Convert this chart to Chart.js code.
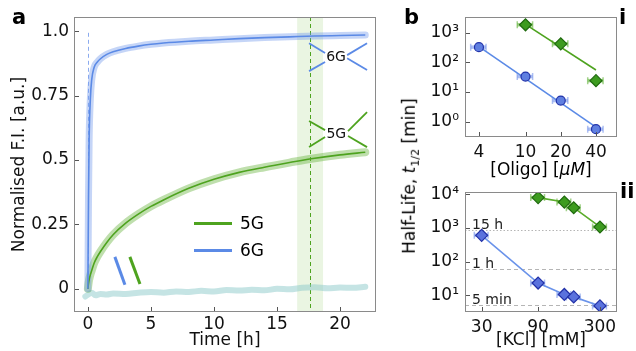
<!DOCTYPE html>
<html>
<head>
<meta charset="utf-8">
<script src="https://cdn.jsdelivr.net/npm/chart.js@4.4.0/dist/chart.umd.min.js"></script>
<style>
body{margin:0;background:#fff;font-family:"DejaVu Sans",sans-serif;}
#wrap{position:relative;width:636px;height:351px;overflow:hidden;background:#fff;}
canvas{position:absolute;}
.lbl{position:absolute;color:#000;white-space:nowrap;line-height:1;}
.leg{position:absolute;height:3px;width:38px;}
</style>
</head>
<body>
<div id="wrap">
  <canvas id="chartA" width="400" height="351" style="left:0px;top:0px"></canvas>
  <canvas id="chartB1" width="236" height="176" style="left:400px;top:0px"></canvas>
  <canvas id="chartB2" width="236" height="175" style="left:400px;top:176px"></canvas>

  <div class="lbl" style="left:12px;top:7px;font-size:21px;font-weight:bold">a</div>
  <div class="lbl" style="left:404px;top:7px;font-size:21px;font-weight:bold">b</div>
  <div class="lbl" style="left:619px;top:7px;font-size:21px;font-weight:bold">i</div>
  <div class="lbl" style="left:620px;top:181px;font-size:21px;font-weight:bold">ii</div>

  <!-- legenda panelu a -->
  <div class="leg" style="left:194px;top:222px;background:#4ea31f"></div>
  <div class="lbl" style="left:240px;top:215px;font-size:17px">5G</div>
  <div class="leg" style="left:194px;top:249px;background:#5b8ae6"></div>
  <div class="lbl" style="left:240px;top:242px;font-size:17px">6G</div>

  <!-- wspólny opis osi y dla b -->
  <div class="lbl" style="left:411px;top:176px;font-size:17px;transform:translate(-50%,-50%) rotate(-90deg)">Half-Life, <i>t</i><sub style="font-size:11px">1/2</sub> [min]</div>
  <div class="lbl" style="left:541px;top:169px;font-size:17px;transform:translate(-50%,-50%)">[Oligo] [<i>μM</i>]</div>
</div>

<script>
// ===== dane panel a =====
const czasH = [0, 0.05, 0.1, 0.2, 0.3, 0.5, 0.75, 1, 1.5, 2, 3, 4, 5, 6, 8, 10, 12, 14, 16, 18, 20, 22];
const fi6G = [0, 0.35, 0.58, 0.74, 0.81, 0.86, 0.88, 0.893, 0.91, 0.92, 0.933, 0.942, 0.949, 0.954, 0.961, 0.966, 0.971, 0.975, 0.978, 0.981, 0.983, 0.985];
const fi5G = [0, 0.02, 0.035, 0.055, 0.07, 0.10, 0.125, 0.145, 0.18, 0.21, 0.255, 0.29, 0.32, 0.345, 0.39, 0.425, 0.452, 0.472, 0.49, 0.507, 0.52, 0.53];
const czasKontrola = [-0.2, 0.3, 0.6, 1, 1.5, 2, 3, 4, 5, 6, 7, 8, 9, 10, 11, 12, 13, 14, 15, 16, 17, 18, 19, 20, 21, 22];
const fiKontrola = [-0.03, -0.015, -0.025, -0.02, -0.022, -0.018, -0.02, -0.015, -0.012, -0.015, -0.01, -0.012, -0.008, -0.01, -0.005, -0.007, -0.004, -0.006, 0.0, -0.002, 0.004, 0.006, 0.002, 0.005, 0.004, 0.008];
const ticksAx = [0, 5, 10, 15, 20];
const ticksAy = [0, 0.25, 0.5, 0.75, 1.0];
const ticksAyOpis = ['0', '0.25', '0.5', '0.75', '1.0'];

// ===== dane panel b.i =====
const oligo = [4, 10, 20, 40];
const t12_6G = [325, 33, 5.1, 0.55];
const oligoErr6G = [0.6, 1.5, 3, 6];
const oligo5G = [10, 20, 40];
const t12_5G = [1850, 420, 24];
const oligoErr5G = [1.5, 3, 6];
const fitOligo6Gx = [4, 40];
const fitOligo6G = [340, 0.65];
const fitOligo5Gx = [10, 40];
const fitOligo5G = [1900, 55];
const ticksB1x = [4, 10, 20, 40];
const ticksB1y = [1, 10, 100, 1000];
const ticksB1yOpis = ['10⁰', '10¹', '10²', '10³'];

// ===== dane panel b.ii =====
const kcl = [30, 90, 150, 180, 300];
const t12kcl6G = [605, 23, 10.5, 8.9, 4.8];
const kclErr6G = [4, 12, 20, 24, 40];
const kcl5G = [90, 150, 180, 300];
const t12kcl5G = [8000, 5900, 4000, 1070];
const kclErr5G = [12, 20, 24, 40];
const linieRef = [900, 60, 5];
const linieRefOpis = ['15 h', '1 h', '5 min'];
const ticksB2x = [30, 90, 300];
const ticksB2y = [10, 100, 1000, 10000];
const ticksB2yOpis = ['10¹', '10²', '10³', '10⁴'];

// kolory
const niebieski = '#5b8ae6';
const zielony = '#4ea31f';

// adnotacje w panelu a (w jednostkach osi)
const pasekStart = 16.6, pasekKoniec = 18.65, liniaPrzerwy = 17.6;
const pionowa6G = 0.05;
const kreski6G = [[17.54, 0.953, 18.81, 0.915], [17.54, 0.845, 18.81, 0.880], [20.56, 0.907, 22.14, 0.953], [20.56, 0.895, 22.14, 0.849]];
const kreski5G = [[17.54, 0.651, 18.81, 0.616], [17.54, 0.550, 18.81, 0.589], [20.63, 0.612, 22.14, 0.686], [20.63, 0.593, 22.14, 0.550]];
const ukosnik6G = [2.14, 0.124, 2.94, 0.016];
const ukosnik5G = [3.33, 0.124, 4.13, 0.019];

const FONT = "'DejaVu Sans', sans-serif";
Chart.defaults.font.family = FONT;
Chart.defaults.color = '#111';

function punkty(xs, ys) {
  return xs.map((x, i) => ({x: x, y: ys[i]}));
}
function odcinek(k) {
  return [{x: k[0], y: k[1]}, {x: k[2], y: k[3]}];
}
function linia(data, kolor, szer, extra) {
  return Object.assign({type: 'line', data: data, borderColor: kolor, borderWidth: szer, pointRadius: 0, fill: false, showLine: true}, extra || {});
}

// stała wielkość osi, żeby obszar wykresu był dokładnie tam gdzie trzeba
function fitY(w) {
  return s => { s.width = w; s.paddingTop = 0; s.paddingBottom = 0; };
}
function fitX(h) {
  return s => { s.height = h; s.paddingLeft = 0; s.paddingRight = 0; };
}
function stickyTicks(lista) {
  return s => { s.ticks = lista.map(v => ({value: v})); };
}

// ramka dookoła + ticki do środka
const ramka = {
  id: 'ramka',
  afterDraw(chart) {
    const {ctx, chartArea: {left, right, top, bottom}, scales: {x, y}} = chart;
    ctx.save();
    ctx.strokeStyle = '#555';
    ctx.lineWidth = 1;
    x.ticks.forEach(t => {
      const px = Math.round(x.getPixelForValue(t.value)) + 0.5;
      ctx.beginPath(); ctx.moveTo(px, bottom); ctx.lineTo(px, bottom - 5); ctx.stroke();
    });
    y.ticks.forEach(t => {
      const py = Math.round(y.getPixelForValue(t.value)) + 0.5;
      ctx.beginPath(); ctx.moveTo(left, py); ctx.lineTo(left + 5, py); ctx.stroke();
    });
    ctx.strokeStyle = '#8a8a8a';
    ctx.strokeRect(Math.round(left) + 0.5, Math.round(top) + 0.5, Math.round(right - left) - 1, Math.round(bottom - top) - 1);
    ctx.restore();
  }
};

// ===== panel a =====
const dodatkiA = {
  id: 'dodatkiA',
  beforeDatasetsDraw(chart) {
    const {ctx, chartArea: {top, bottom}, scales: {x}} = chart;
    ctx.save();
    ctx.fillStyle = 'rgba(170,215,140,0.25)';
    const x1 = x.getPixelForValue(pasekStart), x2 = x.getPixelForValue(pasekKoniec);
    ctx.fillRect(x1, top, x2 - x1, bottom - top);
    ctx.strokeStyle = zielony;
    ctx.lineWidth = 1;
    ctx.setLineDash([4, 3]);
    const xl = Math.round(x.getPixelForValue(liniaPrzerwy)) + 0.5;
    ctx.beginPath(); ctx.moveTo(xl, top); ctx.lineTo(xl, bottom); ctx.stroke();
    ctx.restore();
  },
  afterDraw(chart) {
    const {ctx, scales: {x, y}} = chart;
    ctx.save();
    // etykiety 6G / 5G
    ctx.fillStyle = '#111';
    ctx.font = '14px ' + FONT;
    ctx.textAlign = 'center';
    ctx.textBaseline = 'middle';
    ctx.fillText('6G', x.getPixelForValue(19.68), y.getPixelForValue(0.90));
    ctx.fillText('5G', x.getPixelForValue(19.7), y.getPixelForValue(0.60));
    ctx.restore();
  }
};

const datasetsA = [
  linia(punkty(czasKontrola, fiKontrola), 'rgba(150,205,205,0.55)', 6, {order: 9, cubicInterpolationMode: 'monotone', borderCapStyle: 'round'}),
  linia(punkty(czasH, fi5G), 'rgba(95,175,50,0.4)', 8, {order: 8, cubicInterpolationMode: 'monotone', borderCapStyle: 'round'}),
  linia(punkty(czasH, fi6G), 'rgba(110,150,235,0.4)', 7, {order: 7, cubicInterpolationMode: 'monotone', borderCapStyle: 'round'}),
  linia(punkty(czasH, fi5G), zielony, 1.6, {order: 3, cubicInterpolationMode: 'monotone'}),
  linia(punkty(czasH, fi6G), niebieski, 1.6, {order: 2, cubicInterpolationMode: 'monotone'}),
  linia([{x: pionowa6G, y: 0}, {x: pionowa6G, y: 1.0}], 'rgba(110,150,235,0.8)', 1, {order: 4, borderDash: [4, 3]}),
  linia(odcinek(ukosnik6G), niebieski, 3, {order: 1}),
  linia(odcinek(ukosnik5G), zielony, 3, {order: 1})
];
kreski6G.forEach(k => datasetsA.push(linia(odcinek(k), niebieski, 1.8, {order: 1})));
kreski5G.forEach(k => datasetsA.push(linia(odcinek(k), zielony, 1.8, {order: 1})));

new Chart(document.getElementById('chartA'), {
  type: 'scatter',
  data: {datasets: datasetsA},
  options: {
    responsive: false,
    animation: false,
    layout: {padding: {top: 17, right: 24, left: 0, bottom: 0}},
    plugins: {legend: {display: false}, tooltip: {enabled: false}},
    scales: {
      x: {
        type: 'linear', min: -1.1, max: 22.85,
        grid: {display: false, drawTicks: false}, border: {display: false},
        ticks: {font: {size: 17}, padding: 2, maxRotation: 0, color: '#111'},
        title: {display: true, text: 'Time [h]', font: {size: 17}, color: '#111', padding: {top: 0, bottom: 0}},
        afterBuildTicks: stickyTicks(ticksAx),
        afterFit: fitX(39)
      },
      y: {
        type: 'linear', min: -0.09, max: 1.055,
        grid: {display: false, drawTicks: false}, border: {display: false},
        ticks: {font: {size: 17}, padding: 5, color: '#111', callback: (v) => ticksAyOpis[ticksAy.indexOf(v)]},
        title: {display: true, text: 'Normalised F.I. [a.u.]', font: {size: 17}, color: '#111', padding: {top: 9, bottom: 0}},
        afterBuildTicks: stickyTicks(ticksAy),
        afterFit: fitY(74)
      }
    }
  },
  plugins: [dodatkiA, ramka]
});

// ===== słupki błędów (poziome) dla panelu b =====
const bledy = {
  id: 'bledy',
  beforeDatasetsDraw(chart) {
    const {ctx, scales: {x, y}} = chart;
    ctx.save();
    chart.data.datasets.forEach(ds => {
      if (!ds.xErr) return;
      ctx.strokeStyle = ds.errKolor;
      ds.data.forEach((p, i) => {
        const x1 = x.getPixelForValue(p.x - ds.xErr[i]);
        const x2 = x.getPixelForValue(p.x + ds.xErr[i]);
        const py = y.getPixelForValue(p.y);
        ctx.lineWidth = 3.5;
        ctx.beginPath(); ctx.moveTo(x1, py); ctx.lineTo(x2, py); ctx.stroke();
        ctx.lineWidth = 1.5;
        ctx.beginPath(); ctx.moveTo(x1, py - 3.5); ctx.lineTo(x1, py + 3.5); ctx.moveTo(x2, py - 3.5); ctx.lineTo(x2, py + 3.5); ctx.stroke();
      });
    });
    ctx.restore();
  }
};

function znaczniki(xs, ys, err, styl, wypelnienie, obwodka, errKolor, r) {
  return {
    type: 'scatter', data: punkty(xs, ys), xErr: err, errKolor: errKolor,
    pointStyle: styl, pointRadius: r, backgroundColor: wypelnienie, borderColor: obwodka, pointBorderWidth: 1.2, order: 1
  };
}

function osLog(min, max, ticks, opisy, pad, extra) {
  return Object.assign({
    type: 'logarithmic', min: min, max: max,
    grid: {display: false, drawTicks: false}, border: {display: false},
    ticks: {font: {size: 17}, padding: pad, color: '#111', maxRotation: 0, autoSkip: false,
      callback: (v) => { const i = ticks.indexOf(v); return i >= 0 ? opisy[i] : ''; }},
    afterBuildTicks: stickyTicks(ticks)
  }, extra || {});
}

// ===== panel b.i =====
new Chart(document.getElementById('chartB1'), {
  type: 'scatter',
  data: {
    datasets: [
      linia(punkty(fitOligo6Gx, fitOligo6G), niebieski, 1.6, {order: 5}),
      linia(punkty(fitOligo5Gx, fitOligo5G), zielony, 1.6, {order: 5}),
      znaczniki(oligo, t12_6G, oligoErr6G, 'circle', '#5f7fe0', '#2233aa', 'rgba(120,150,235,0.6)', 4.5),
      znaczniki(oligo5G, t12_5G, oligoErr5G, 'rectRot', '#3d9b1f', '#1f6a0e', 'rgba(100,180,60,0.6)', 6)
    ]
  },
  options: {
    responsive: false,
    animation: false,
    layout: {padding: {top: 17, right: 19, left: 0, bottom: 0}},
    plugins: {legend: {display: false}, tooltip: {enabled: false}},
    scales: {
      x: osLog(3.04, 60.5, ticksB1x, ticksB1x.map(String), 5, {afterFit: fitX(39)}),
      y: osLog(0.34, 3390, ticksB1y, ticksB1yOpis, 6, {afterFit: fitY(65)})
    }
  },
  plugins: [bledy, ramka]
});

// ===== panel b.ii =====
const referencje = {
  id: 'referencje',
  beforeDatasetsDraw(chart) {
    const {ctx, chartArea: {left, right}, scales: {y}} = chart;
    ctx.save();
    ctx.strokeStyle = '#b5b5b5';
    ctx.lineWidth = 1;
    ctx.fillStyle = '#222';
    ctx.font = '14px ' + FONT;
    ctx.textBaseline = 'alphabetic';
    linieRef.forEach((v, i) => {
      const py = Math.round(y.getPixelForValue(v)) + 0.5;
      ctx.setLineDash(i === 0 ? [1.5, 2] : [4, 3]);
      ctx.beginPath(); ctx.moveTo(left, py); ctx.lineTo(right, py); ctx.stroke();
      ctx.fillText(linieRefOpis[i], left + 7, py - 1.5);
    });
    ctx.restore();
  }
};

new Chart(document.getElementById('chartB2'), {
  type: 'scatter',
  data: {
    datasets: [
      linia(punkty(kcl, t12kcl6G), '#6a93ea', 1.6, {order: 5}),
      linia(punkty(kcl5G, t12kcl5G), '#5aac2a', 1.6, {order: 5}),
      znaczniki(kcl, t12kcl6G, kclErr6G, 'rectRot', '#5a72dd', '#2231a8', 'rgba(120,150,235,0.6)', 6),
      znaczniki(kcl5G, t12kcl5G, kclErr5G, 'rectRot', '#3d9b1f', '#1f6a0e', 'rgba(100,180,60,0.6)', 6)
    ]
  },
  options: {
    responsive: false,
    animation: false,
    layout: {padding: {top: 16, right: 19, left: 0, bottom: 0}},
    plugins: {legend: {display: false}, tooltip: {enabled: false}},
    scales: {
      x: osLog(21.7, 418, ticksB2x, ticksB2x.map(String), 5, {
        title: {display: true, text: '[KCl] [mM]', font: {size: 17}, color: '#111', padding: {top: 0, bottom: 0}},
        afterFit: fitX(39)
      }),
      y: osLog(3.16, 11750, ticksB2y, ticksB2yOpis, 6, {afterFit: fitY(65)})
    }
  },
  plugins: [referencje, bledy, ramka]
});
</script>
</body>
</html>
